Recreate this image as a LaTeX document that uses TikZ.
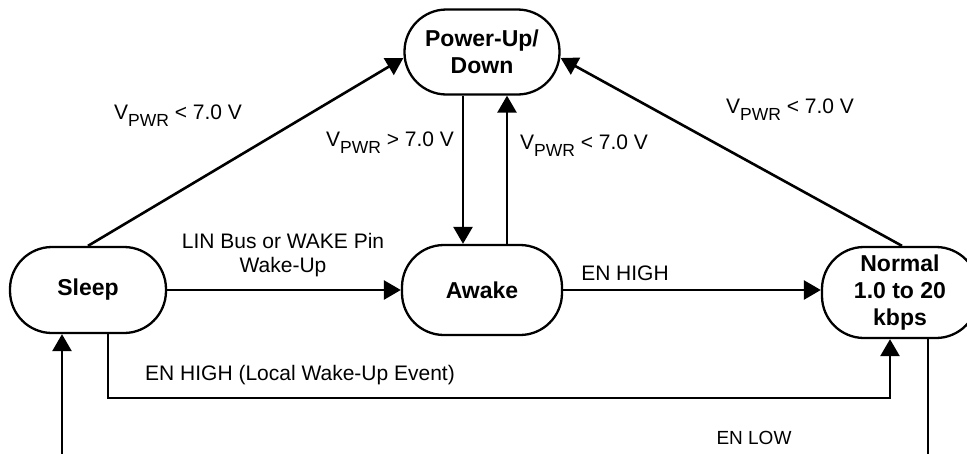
\documentclass[tikz,border=0pt]{standalone}
\usepackage{fontspec}
\setmainfont{Liberation Sans}
\usetikzlibrary{arrows.meta}
\newcommand\vpwr{V\raisebox{-0.32em}{\fontsize{17.5}{17.5}\selectfont PWR}}
\begin{document}
\begin{tikzpicture}[x=1pt,y=-1pt,
  state/.style={draw,line width=2.3pt,rectangle,rounded corners=42pt,inner sep=0pt,align=center,
    font=\fontsize{23}{27}\selectfont\bfseries},
  lab/.style={font=\fontsize{21}{24}\selectfont,align=center,inner sep=0pt},
  conn/.style={line width=2.6pt,-{Triangle[length=17pt,width=19pt]}},
  plain/.style={line width=2.6pt}]
\useasboundingbox (0,0) rectangle (967,453);
\clip (0,0) rectangle (967,453);
\node[state,minimum width=155pt,minimum height=85pt] (pwr) at (482,52) {Power-Up/\\Down};
\node[state,minimum width=156pt,minimum height=86pt] (sleep) at (88,290) {Sleep};
\node[state,minimum width=160pt,minimum height=90pt] (awake) at (482,290) {Awake};
\node[state,minimum width=156pt,minimum height=91pt] (normal) at (900,292.5) {Normal\\1.0 to 20\\kbps};
% connectors
\draw[conn] (sleep.north) -- ([yshift=-6pt]pwr.west);
\draw[conn] ([xshift=2pt]normal.north) -- ([yshift=-6pt]pwr.east);
\draw[conn] ([xshift=-19pt]pwr.south) -- ([xshift=-19pt]awake.north);
\draw[conn] ([xshift=25pt]awake.north) -- ([xshift=25pt]pwr.south);
\draw[conn] (sleep.east) -- (awake.west);
\draw[conn] (awake.east) -- (awake.east -| normal.west);
\coordinate (bot) at (0,398);
\coordinate (nb) at ([xshift=-10pt]normal.south);
\draw[conn] ([xshift=20pt]sleep.south) |- (bot -| nb) -- (nb);
\coordinate (bl) at (62,460);
\draw[conn] (bl) -- (bl |- sleep.south);
\coordinate (br) at (928,460);
\draw[plain] (br |- normal.south) -- (br);
% labels
\node[lab] (l1) at (178,116) {\vpwr{} < 7.0 V};
\node[lab] (l2) at (390,143) {\vpwr{} > 7.0 V};
\node[lab] (l3) at (584,146) {\vpwr{} < 7.0 V};
\node[lab] (l4) at (790,110) {\vpwr{} < 7.0 V};
\node[lab] (l5) at (283,255) {LIN Bus or WAKE Pin\\Wake-Up};
\node[lab] (l6) at (625,273) {EN HIGH};
\node[lab,anchor=west] (l7) at (145,375) {EN HIGH (Local Wake-Up Event)};
\node[lab,font=\fontsize{19}{22}\selectfont] (l8) at (754,438) {EN LOW};
\end{tikzpicture}
\end{document}
